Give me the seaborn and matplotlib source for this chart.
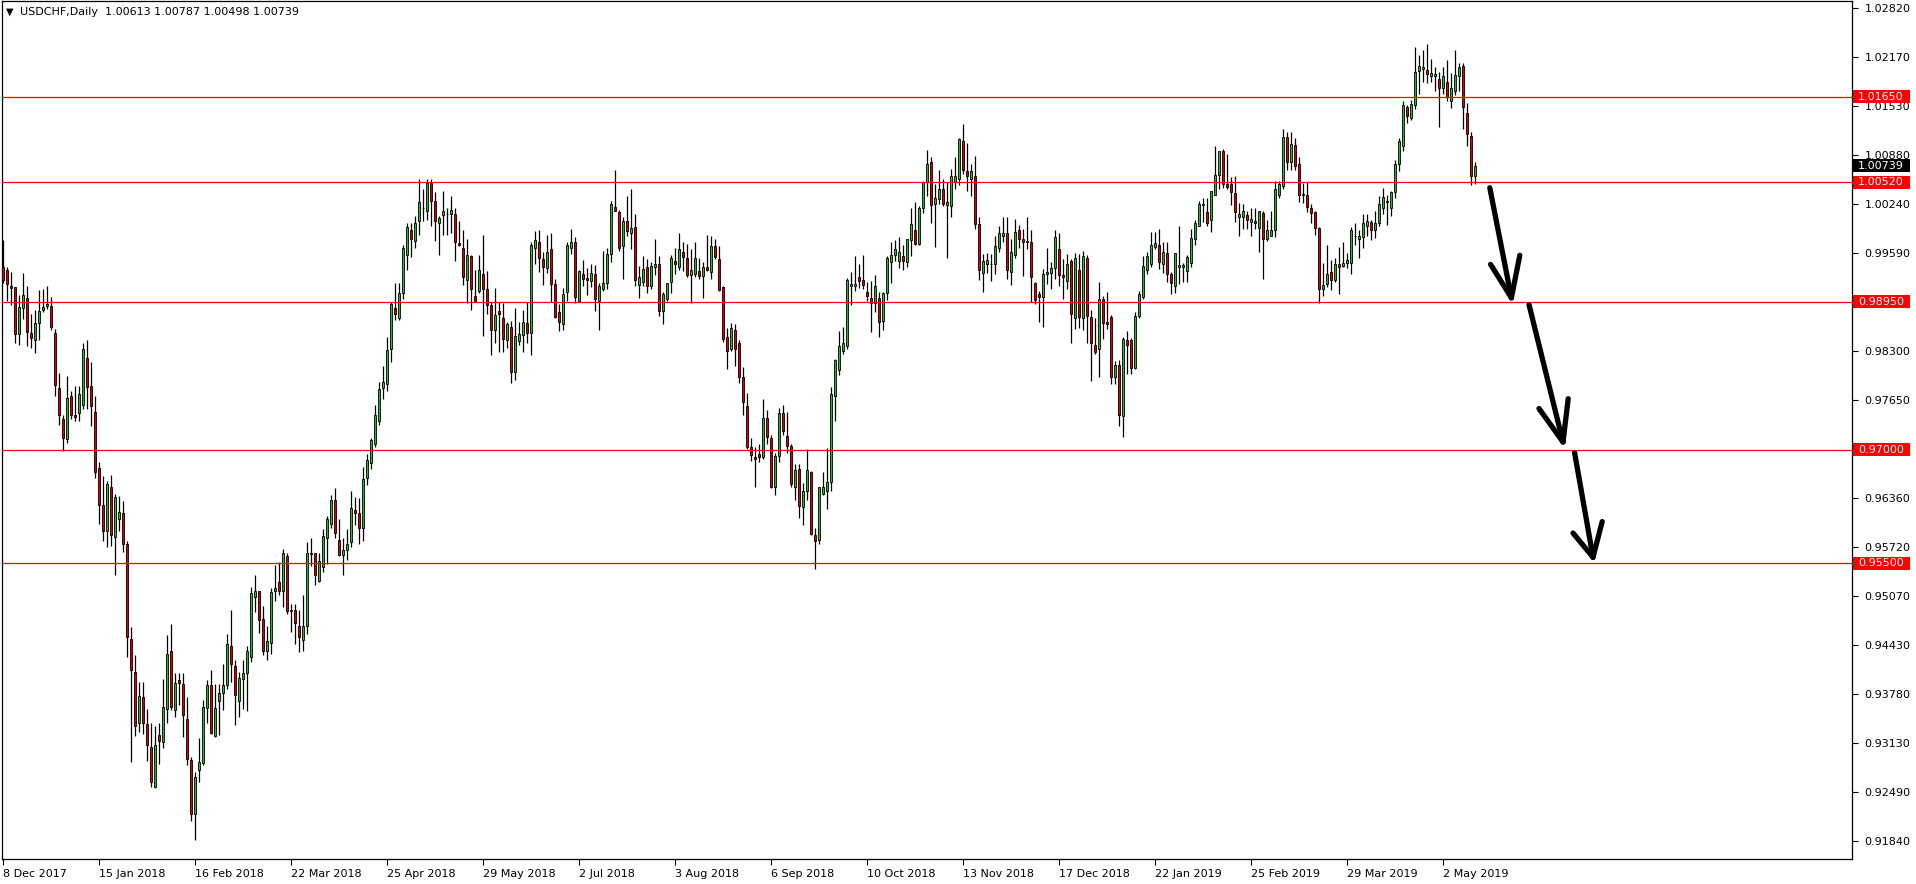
import matplotlib
matplotlib.use("Agg")
import matplotlib.pyplot as plt
import matplotlib.transforms as mtransforms
from matplotlib.patches import Rectangle
import numpy as np
import seaborn as sns

symbol = "USDCHF,Daily"
last_ohlc = [1.00613, 1.00787, 1.00498, 1.00739]

# daily candles, in pips (price x 10000)
opens = [9940, 9937, 9915, 9914, 9852, 9887, 9900, 9854, 9845, 9867, 9884, 9889, 9889, 9854, 9781, 9740, 9714, 9770, 9745, 9748,
         9759, 9821, 9784, 9750, 9676, 9627, 9593, 9651, 9585, 9608, 9617, 9576, 9450, 9407, 9340, 9374, 9338, 9308, 9255, 9324,
         9314, 9358, 9434, 9357, 9396, 9391, 9345, 9291, 9219, 9277, 9287, 9359, 9389, 9322, 9369, 9379, 9389, 9441, 9415, 9368,
         9398, 9405, 9427, 9506, 9513, 9476, 9434, 9445, 9513, 9526, 9513, 9560, 9487, 9489, 9467, 9449, 9467, 9564, 9563, 9527,
         9545, 9583, 9602, 9634, 9581, 9561, 9568, 9578, 9620, 9617, 9597, 9662, 9682, 9707, 9737, 9781, 9786, 9832, 9886, 9874,
         9906, 9957, 9990, 9975, 10001, 10019, 10015, 10051, 10028, 9998, 10009, 10011, 10011, 10011, 9972, 9966, 9923, 9955, 9903, 9909,
         9932, 9912, 9891, 9857, 9883, 9873, 9845, 9861, 9802, 9843, 9851, 9867, 9854, 9966, 9973, 9951, 9939, 9964, 9918, 9881,
         9866, 9907, 9965, 9973, 9896, 9931, 9926, 9922, 9931, 9896, 9911, 9919, 9958, 10020, 10013, 9968, 10001, 9986, 9993, 9917,
         9921, 9940, 9915, 9941, 9945, 9882, 9899, 9921, 9949, 9940, 9961, 9953, 9930, 9932, 9935, 9929, 9941, 9934, 9968, 9951,
         9914, 9848, 9832, 9858, 9840, 9795, 9757, 9703, 9690, 9694, 9690, 9741, 9715, 9650, 9691, 9748, 9718, 9705, 9651, 9675,
         9624, 9645, 9670, 9587, 9581, 9641, 9646, 9657, 9771, 9805, 9830, 9836, 9916, 9915, 9928, 9923, 9908, 9900, 9893, 9900,
         9870, 9906, 9947, 9956, 9949, 9955, 9947, 9976, 9990, 9971, 10019, 10052, 10079, 10023, 10030, 10044, 10022, 10021, 10053, 10056,
         10107, 10067, 10057, 10060, 9997, 9933, 9944, 9945, 9944, 9966, 9982, 9985, 9934, 9957, 9990, 9978, 9975, 9974, 9919, 9905,
         9901, 9931, 9933, 9939, 9964, 9930, 9922, 9948, 9873, 9936, 9874, 9953, 9875, 9838, 9832, 9899, 9868, 9875, 9795, 9812,
         9744, 9844, 9844, 9808, 9876, 9901, 9937, 9944, 9967, 9970, 9945, 9959, 9932, 9915, 9941, 9941, 9935, 9946, 9977, 9995,
         10022, 10013, 10003, 10036, 10062, 10093, 10050, 10050, 10038, 10007, 10007, 10009, 10000, 10001, 9992, 10012, 9978, 9982, 9989, 10035,
         10047, 10112, 10079, 10101, 10076, 10037, 10036, 10018, 10013, 9992, 9911, 9918, 9934, 9923, 9944, 9942, 9946, 9946, 9982, 9978,
         9980, 9995, 10000, 9990, 9998, 10018, 10028, 10018, 10039, 10076, 10100, 10152, 10137, 10154, 10199, 10201, 10200, 10193, 10192, 10189,
         10177, 10185, 10159, 10172, 10192, 10206, 10143, 10113, 10061]
highs = [9976, 9940, 9934, 9914, 9904, 9933, 9916, 9878, 9884, 9910, 9911, 9915, 9901, 9859, 9801, 9745, 9797, 9777, 9784, 9784,
         9840, 9845, 9816, 9770, 9684, 9665, 9658, 9666, 9641, 9639, 9632, 9580, 9466, 9429, 9393, 9393, 9358, 9340, 9336, 9340,
         9397, 9455, 9470, 9405, 9406, 9405, 9374, 9295, 9275, 9320, 9370, 9396, 9409, 9391, 9391, 9417, 9457, 9489, 9423, 9407,
         9422, 9441, 9519, 9534, 9513, 9494, 9467, 9517, 9548, 9552, 9569, 9563, 9497, 9497, 9489, 9508, 9578, 9583, 9564, 9564,
         9595, 9612, 9640, 9649, 9609, 9584, 9595, 9646, 9637, 9636, 9677, 9694, 9715, 9759, 9789, 9810, 9848, 9895, 9920, 9920,
         9969, 9999, 9999, 10008, 10056, 10044, 10056, 10056, 10039, 10008, 10041, 10019, 10034, 10018, 10001, 9990, 9977, 9956, 9936, 9957,
         9983, 9935, 9895, 9913, 9895, 9893, 9868, 9869, 9887, 9868, 9884, 9895, 9974, 9988, 9990, 9960, 9983, 9985, 9925, 9892,
         9913, 9974, 9991, 9980, 9937, 9950, 9939, 9944, 9943, 9920, 9962, 9966, 10028, 10068, 10016, 10006, 10034, 10043, 10010, 9942,
         9955, 9951, 9947, 9978, 9955, 9907, 9920, 9956, 9966, 9985, 9973, 9971, 9964, 9974, 9953, 9947, 9983, 9981, 9977, 9968,
         9915, 9860, 9867, 9865, 9845, 9809, 9775, 9715, 9703, 9707, 9766, 9752, 9719, 9696, 9755, 9759, 9749, 9707, 9681, 9681,
         9656, 9701, 9672, 9597, 9650, 9671, 9702, 9782, 9819, 9856, 9862, 9926, 9934, 9955, 9944, 9956, 9921, 9922, 9930, 9907,
         9908, 9955, 9974, 9976, 9980, 9970, 9977, 10018, 10026, 10021, 10054, 10095, 10085, 10050, 10068, 10056, 10052, 10070, 10085, 10111,
         10129, 10104, 10076, 10087, 10006, 9958, 9959, 9958, 9981, 9994, 10006, 10006, 9977, 10004, 9996, 9991, 10007, 9990, 9921, 9909,
         9938, 9965, 9947, 9990, 9986, 9951, 9958, 9951, 9959, 9958, 9962, 9956, 9884, 9874, 9921, 9903, 9908, 9877, 9817, 9818,
         9848, 9856, 9847, 9881, 9909, 9955, 9960, 9987, 9987, 9991, 9974, 9974, 9934, 9959, 9994, 9946, 9957, 9991, 10002, 10027,
         10032, 10032, 10041, 10100, 10094, 10096, 10090, 10059, 10060, 10025, 10024, 10014, 10018, 10019, 10015, 10014, 10002, 10014, 10054, 10054,
         10122, 10119, 10119, 10111, 10085, 10051, 10052, 10024, 10015, 9993, 9946, 9970, 9950, 9952, 9967, 9973, 9959, 9993, 9999, 9989,
         10011, 10011, 10002, 10014, 10034, 10045, 10036, 10041, 10082, 10110, 10160, 10154, 10161, 10230, 10220, 10227, 10235, 10215, 10204, 10197,
         10204, 10214, 10196, 10226, 10209, 10209, 10157, 10119, 10079]
lows = [9920, 9896, 9890, 9841, 9838, 9872, 9837, 9834, 9827, 9845, 9881, 9885, 9858, 9770, 9732, 9698, 9708, 9740, 9737, 9737,
        9754, 9753, 9731, 9663, 9602, 9579, 9572, 9573, 9535, 9593, 9565, 9426, 9288, 9323, 9328, 9325, 9289, 9255, 9254, 9286,
        9306, 9339, 9357, 9348, 9363, 9321, 9284, 9210, 9186, 9262, 9284, 9340, 9325, 9321, 9324, 9357, 9385, 9393, 9337, 9347,
        9358, 9355, 9420, 9486, 9458, 9429, 9423, 9431, 9500, 9508, 9492, 9483, 9459, 9444, 9433, 9434, 9457, 9547, 9522, 9526,
        9539, 9549, 9596, 9583, 9560, 9535, 9554, 9571, 9601, 9576, 9579, 9653, 9674, 9703, 9732, 9767, 9777, 9816, 9871, 9871,
        9898, 9936, 9954, 9966, 9983, 10001, 10003, 9994, 9975, 9956, 9983, 9983, 9986, 9949, 9968, 9917, 9893, 9884, 9895, 9906,
        9850, 9878, 9825, 9841, 9829, 9829, 9834, 9788, 9791, 9838, 9829, 9841, 9825, 9944, 9934, 9917, 9933, 9894, 9873, 9856,
        9858, 9896, 9958, 9893, 9894, 9915, 9904, 9914, 9883, 9857, 9909, 9912, 9947, 10014, 9962, 9925, 9982, 9964, 9915, 9900,
        9915, 9906, 9911, 9930, 9876, 9866, 9896, 9906, 9931, 9936, 9935, 9928, 9893, 9927, 9925, 9900, 9935, 9925, 9951, 9909,
        9842, 9806, 9830, 9810, 9788, 9745, 9701, 9685, 9651, 9683, 9687, 9707, 9649, 9640, 9684, 9719, 9695, 9651, 9634, 9610,
        9600, 9634, 9588, 9542, 9575, 9640, 9622, 9645, 9737, 9798, 9826, 9832, 9891, 9909, 9913, 9912, 9896, 9855, 9881, 9848,
        9858, 9897, 9920, 9948, 9939, 9936, 9941, 9955, 9969, 9970, 10012, 10034, 9998, 9967, 10023, 10021, 9952, 10007, 10044, 10049,
        10063, 10041, 10034, 9991, 9924, 9908, 9933, 9922, 9931, 9961, 9974, 9925, 9917, 9953, 9965, 9929, 9964, 9894, 9892, 9868,
        9862, 9918, 9911, 9925, 9915, 9898, 9911, 9840, 9859, 9860, 9857, 9840, 9790, 9826, 9796, 9846, 9859, 9787, 9787, 9731,
        9716, 9800, 9800, 9806, 9873, 9898, 9932, 9941, 9964, 9938, 9933, 9921, 9905, 9906, 9918, 9921, 9921, 9941, 9970, 9994,
        10000, 9995, 9987, 10035, 10043, 10045, 10043, 10022, 10000, 9981, 9991, 9991, 9982, 9991, 9961, 9925, 9975, 9981, 9980, 10031,
        10043, 10068, 10069, 10068, 10026, 10025, 10013, 9999, 9983, 9893, 9902, 9914, 9910, 9921, 9905, 9941, 9939, 9931, 9970, 9952,
        9966, 9982, 9976, 9979, 9995, 10010, 9996, 10008, 10032, 10067, 10093, 10131, 10134, 10149, 10168, 10184, 10183, 10185, 10172, 10125,
        10169, 10160, 10150, 10167, 10172, 10122, 10100, 10049, 10050]
closes = [9923, 9918, 9913, 9852, 9888, 9904, 9855, 9847, 9867, 9882, 9888, 9892, 9861, 9785, 9745, 9715, 9768, 9745, 9743, 9773,
          9833, 9782, 9758, 9671, 9627, 9593, 9654, 9588, 9638, 9618, 9576, 9453, 9410, 9335, 9375, 9340, 9311, 9262, 9310, 9316,
          9360, 9431, 9360, 9392, 9392, 9350, 9292, 9219, 9269, 9288, 9360, 9389, 9327, 9359, 9379, 9389, 9444, 9417, 9376, 9399,
          9405, 9434, 9511, 9513, 9475, 9434, 9447, 9512, 9518, 9513, 9563, 9487, 9489, 9472, 9453, 9467, 9564, 9562, 9534, 9553,
          9586, 9608, 9634, 9590, 9561, 9568, 9576, 9623, 9617, 9597, 9661, 9686, 9712, 9745, 9780, 9789, 9831, 9892, 9878, 9906,
          9966, 9993, 9977, 9999, 10026, 10018, 10051, 10028, 10001, 10005, 10014, 10010, 10016, 9974, 9970, 9927, 9957, 9912, 9896, 9936,
          9912, 9891, 9857, 9877, 9879, 9846, 9865, 9802, 9849, 9852, 9868, 9854, 9970, 9976, 9952, 9940, 9960, 9918, 9875, 9868,
          9905, 9970, 9974, 9901, 9935, 9925, 9924, 9933, 9899, 9915, 9919, 9958, 10023, 10015, 9966, 10001, 9988, 9992, 9924, 9928,
          9938, 9916, 9942, 9944, 9882, 9905, 9919, 9953, 9944, 9964, 9954, 9930, 9936, 9952, 9929, 9941, 9936, 9968, 9954, 9910,
          9846, 9830, 9860, 9833, 9795, 9762, 9704, 9693, 9688, 9690, 9742, 9717, 9650, 9691, 9748, 9724, 9705, 9655, 9673, 9625,
          9645, 9673, 9589, 9579, 9650, 9650, 9657, 9773, 9818, 9836, 9840, 9923, 9918, 9918, 9922, 9917, 9902, 9893, 9915, 9868,
          9906, 9952, 9956, 9964, 9960, 9948, 9977, 9997, 9971, 10019, 10052, 10077, 10022, 10032, 10043, 10024, 10026, 10060, 10061, 10109,
          10069, 10060, 10067, 9997, 9936, 9948, 9950, 9944, 9968, 9986, 9986, 9936, 9960, 9987, 9977, 9974, 9973, 9928, 9897, 9901,
          9931, 9934, 9939, 9980, 9930, 9927, 9945, 9879, 9952, 9875, 9955, 9876, 9840, 9828, 9899, 9867, 9865, 9796, 9812, 9745,
          9846, 9838, 9808, 9876, 9905, 9942, 9955, 9969, 9972, 9947, 9961, 9932, 9919, 9959, 9943, 9943, 9954, 9979, 9999, 10024,
          10024, 9999, 10041, 10062, 10093, 10050, 10046, 10040, 10013, 10010, 10014, 10003, 10004, 9999, 10014, 9978, 9989, 9990, 10044, 10050,
          10112, 10079, 10103, 10074, 10036, 10035, 10020, 10012, 9992, 9911, 9917, 9931, 9923, 9944, 9940, 9946, 9950, 9989, 9981, 9981,
          9999, 10001, 9990, 9998, 10024, 10033, 10026, 10040, 10077, 10107, 10154, 10140, 10156, 10198, 10205, 10204, 10195, 10196, 10195, 10177,
          10193, 10165, 10177, 10194, 10204, 10151, 10116, 10061, 10074]

date_labels = ["8 Dec 2017", "15 Jan 2018", "16 Feb 2018", "22 Mar 2018", "25 Apr 2018", "29 May 2018",
               "2 Jul 2018", "3 Aug 2018", "6 Sep 2018", "10 Oct 2018", "13 Nov 2018", "17 Dec 2018",
               "22 Jan 2019", "25 Feb 2019", "29 Mar 2019", "2 May 2019"]
bars_per_label = 24

# scale labels; the ones at 0.98950 and 0.97010 sit under the level boxes
price_ticks = [1.02820, 1.02170, 1.01530, 1.00880, 1.00240, 0.99590, 0.98300, 0.97650,
               0.96360, 0.95720, 0.95070, 0.94430, 0.93780, 0.93130, 0.92490, 0.91840]
levels = [1.01650, 1.00520, 0.98950, 0.97000, 0.95500]
last_price = 1.00739

# hand drawn arrows: (start, tip, left barb, right barb) as (bar, price)
arrows = [
    [(371.7, 1.0045), (377.1, 0.9900), (371.9, 0.9944), (379.2, 0.9956)],
    [(381.5, 0.9891), (390.0, 0.9710), (384.0, 0.9754), (391.3, 0.9767)],
    [(392.9, 0.9696), (397.5, 0.9558), (392.5, 0.9590), (399.8, 0.9605)],
]

sns.set_theme(style="white")
plt.rcParams["font.family"] = ["DejaVu Sans"]

W, H = 1916, 884
fig = plt.figure(figsize=(W / 100, H / 100), dpi=100)
fig.patch.set_facecolor("white")
ax = fig.add_axes([2 / W, 25 / H, 1850 / W, 858 / H])
ax.set_facecolor("white")

o = np.array(opens) / 1e4
h = np.array(highs) / 1e4
l = np.array(lows) / 1e4
c = np.array(closes) / 1e4
x = np.arange(len(o))
up = c >= o
body_col = np.where(up, "#36b336", "#d80000")

ax.vlines(x, l, h, color="black", linewidth=0.9, zorder=2)
ax.bar(x, np.maximum(np.abs(c - o), 0.00002), bottom=np.minimum(o, c), width=0.55,
       color=body_col, edgecolor="black", linewidth=0.6, zorder=3)

for lv in levels:
    ax.axhline(lv, color="#ff0000", linewidth=0.9, zorder=4)

for a in arrows:
    start, tip, lb, rb = a
    for p in (start, lb, rb):
        ax.plot([p[0], tip[0]], [p[1], tip[1]], color="black", linewidth=3.8,
                solid_capstyle="round", zorder=5)

ax.set_xlim(-0.25, 462.25)
ax.set_ylim(0.91603, 1.02912)

ax.yaxis.tick_right()
ax.set_yticks(price_ticks)
ax.set_yticklabels([f"{t:.5f}" for t in price_ticks])
ax.set_xticks(np.arange(len(date_labels)) * bars_per_label)
ax.set_xticklabels(date_labels, ha="left")
ax.tick_params(axis="both", direction="out", length=4, width=0.8, colors="black",
               labelsize=8, pad=2)
ax.tick_params(axis="x", bottom=True, pad=3)
ax.tick_params(axis="y", right=True, left=False, pad=5)
for sp in ax.spines.values():
    sp.set_color("black")
    sp.set_linewidth(0.9)
ax.grid(False)

# price boxes on the right scale
trans = mtransforms.blended_transform_factory(ax.transAxes, ax.transData)
box_w = 57 / 1850
box_h = 13 / 7586.5
boxes = [(lv, "#ff0000") for lv in levels] + [(last_price, "black")]
for val, col in boxes:
    ax.add_patch(Rectangle((1.0 + 1 / 1850, val - box_h / 2), box_w, box_h, transform=trans,
                           facecolor=col, edgecolor="none", clip_on=False, zorder=10))
    ax.text(1.0 + 6 / 1850, val, f"{val:.5f}", transform=trans, color="white", fontsize=8,
            va="center", ha="left", clip_on=False, zorder=11)

# header
fig.text(10 / W, 1 - 12 / H, "\u25bc", fontsize=7, ha="center", va="center", color="black")
fig.text(20 / W, 1 - 12 / H, symbol + "  " + " ".join(f"{v:.5f}" for v in last_ohlc),
         fontsize=8, ha="left", va="center", color="black")

fig.savefig("out.png", dpi=100, facecolor="white")
